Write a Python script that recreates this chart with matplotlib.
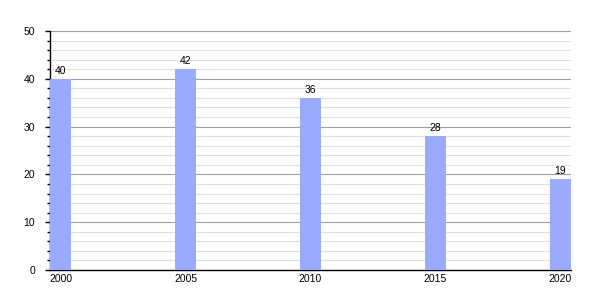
import matplotlib.pyplot as plt
from matplotlib.ticker import MultipleLocator

years = [2000, 2005, 2010, 2015, 2020]
values = [40, 42, 36, 28, 19]

plt.rcParams['font.family'] = ['Liberation Sans', 'DejaVu Sans']

fig = plt.figure(figsize=(6, 3), dpi=100)
ax = fig.add_axes([50 / 600, 1 - 270 / 300, 521 / 600, 239 / 300])

w = 0.85
ax.bar(years, values, width=w, color="#99aaff", zorder=3)
for x, v in zip(years, values):
    ax.text(x, v + 0.6, str(v), ha="center", va="bottom", fontsize=7.5, zorder=4)

ax.set_xlim(years[0] - w / 2, years[-1] + w / 2)
ax.set_ylim(0, 50)
ax.set_xticks(years)
ax.yaxis.set_major_locator(MultipleLocator(10))
ax.yaxis.set_minor_locator(MultipleLocator(2))

ax.grid(axis="y", which="major", color="#a0a0a0", linewidth=0.8, zorder=1)
ax.grid(axis="y", which="minor", color="#e0e0e0", linewidth=0.8, zorder=1)

for s in ["top", "right"]:
    ax.spines[s].set_visible(False)
ax.spines["left"].set_linewidth(1)
ax.spines["bottom"].set_linewidth(1)

ax.tick_params(axis="y", which="major", length=3.75, width=1, labelsize=7.5, pad=7)
ax.tick_params(axis="y", which="minor", length=2, width=1)
ax.tick_params(axis="x", length=0, labelsize=7.5, pad=3)

fig.savefig("out.png", dpi=100)
